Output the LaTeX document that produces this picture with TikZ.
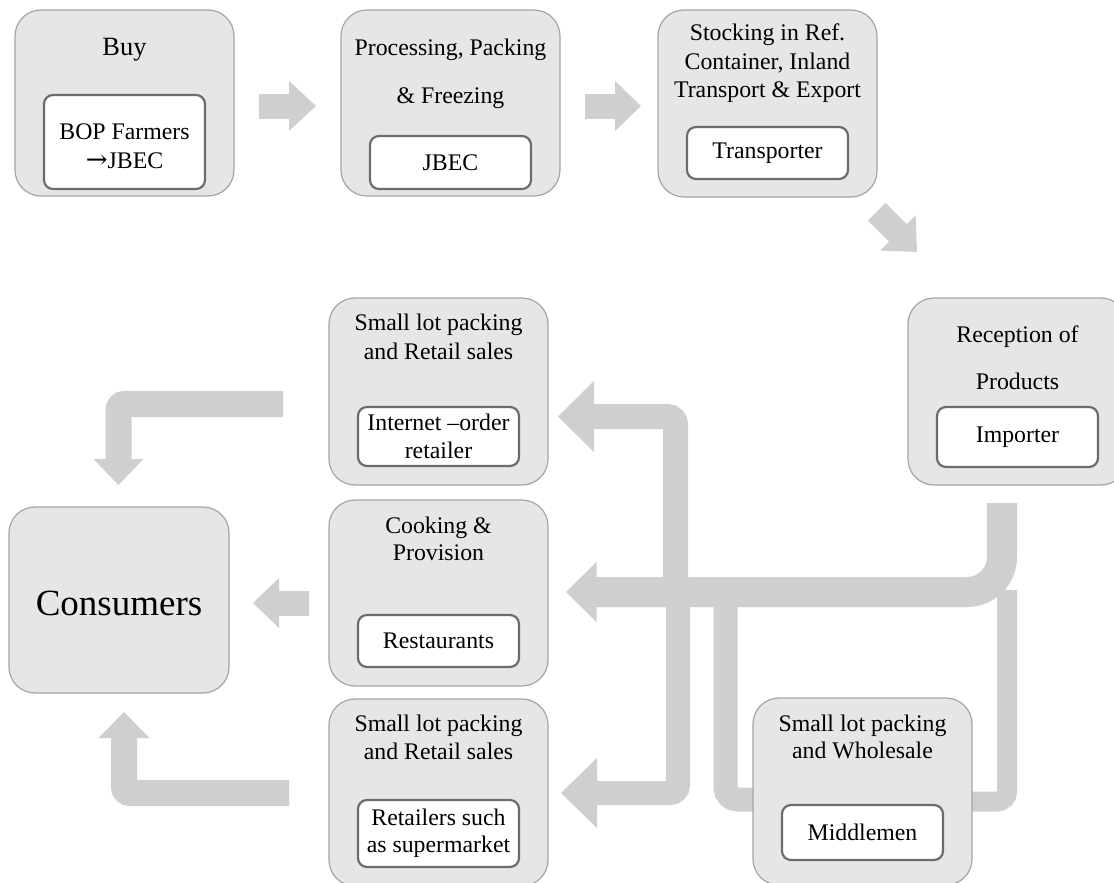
\documentclass[tikz,border=0pt]{standalone}
\usepackage{fontspec}
\setmainfont{Liberation Serif}
\newfontfamily\arrowfont{DejaVu Serif}
\definecolor{boxfill}{RGB}{230,230,230}
\definecolor{boxline}{RGB}{165,165,165}
\definecolor{inline}{RGB}{108,108,108}
\definecolor{arr}{RGB}{208,206,207}
\newcommand{\boxtxt}{\fontsize{23.8}{29}\selectfont}
\tikzset{
  outerbox/.style={draw=boxline, fill=boxfill, line width=1.2pt, rounded corners=26pt,
    minimum width=219pt, minimum height=186pt, inner sep=0pt},
  innerbox/.style={draw=inline, fill=white, line width=2.2pt, rounded corners=9pt,
    minimum width=161pt, inner sep=0pt, align=center, font=\boxtxt},
  lbl/.style={align=center, font=\boxtxt, inner sep=0pt},
  arrfill/.style={fill=arr},
  band/.style={draw=arr, line cap=butt},
}
\begin{document}
\begin{tikzpicture}[x=1pt,y=-1pt]
\useasboundingbox (0,0) rectangle (1114,883);
\clip (0,0) rectangle (1114,883);
\fill[white] (0,0) rectangle (1114,883);

% ---- top row arrows
\fill[arrfill] (259,93.5) rectangle (289.5,118.5);
\fill[arrfill] (289,81) -- (316,106) -- (289,131) -- cycle;
\fill[arrfill] (585,93.5) rectangle (615.5,118.5);
\fill[arrfill] (615,81) -- (641,106) -- (615,131) -- cycle;
\begin{scope}[shift={(917,252)},rotate=-45]
  \fill[arrfill] (-57,-12.5) rectangle (-26.5,12.5);
  \fill[arrfill] (-27,-25) -- (0,0) -- (-27,25) -- cycle;
\end{scope}

% ---- distribution network
\draw[band, line width=30pt, rounded corners=35pt] (1002,503) -- (1002,592) -- (595,592);
\fill[arrfill] (596.5,562) -- (566,592) -- (596.5,622) -- cycle;
\draw[band, line width=20pt, rounded corners=10pt] (1007,590) -- (1007,801.5) -- (972,801.5);
\draw[band, line width=24pt, rounded corners=12pt] (753,799.5) -- (725.5,799.5) -- (725.5,600);
\draw[band, line width=25pt, rounded corners=8pt] (675.5,607) -- (675.5,416.5) -- (593.5,416.5);
\fill[arrfill] (594,381) -- (558,416.5) -- (594,452) -- cycle;
\draw[band, line width=24pt, rounded corners=8pt] (678,604) -- (678,793) -- (596.5,793);
\fill[arrfill] (597,758) -- (561,793) -- (597,828) -- cycle;

% ---- arrows to consumers
\draw[band, line width=26pt, rounded corners=6pt] (283,404) -- (118.5,404) -- (118.5,459.5);
\fill[arrfill] (93.5,459) -- (118.5,485) -- (143.5,459) -- cycle;
\fill[arrfill] (278.5,590.5) rectangle (309,615.5);
\fill[arrfill] (279,578) -- (253,603) -- (279,628) -- cycle;
\draw[band, line width=26pt, rounded corners=6pt] (289,793) -- (124,793) -- (124,737.5);
\fill[arrfill] (98.5,738) -- (124,712) -- (149.5,738) -- cycle;

% ---- boxes
\node[outerbox] (buy) at (124.5,103) {};
\node[lbl, font=\fontsize{26.4}{30}\selectfont] (buyt) at (124.5,50) {Buy};
\node[innerbox, minimum height=94pt] (buyin) at (124.5,142) {};
\node[lbl] (buyint) at (124.5,146.5) {BOP Farmers\\{\arrowfont\fontsize{26}{29}\selectfont →}JBEC};

\node[outerbox] (proc) at (450.5,103) {};
\node[lbl] (proct1) at (450.5,50) {Processing, Packing};
\node[lbl] (proct2) at (450.5,98) {\& Freezing};
\node[innerbox, minimum height=53pt] (procin) at (450.5,162.5) {JBEC};

\node[outerbox, minimum height=187pt] (stock) at (767.5,103.5) {};
\node[lbl, font=\fontsize{23.8}{28.5}\selectfont] (stockt) at (767.5,63.5) {Stocking in Ref.\\Container, Inland\\Transport \& Export};
\node[innerbox, minimum height=52pt] (stockin) at (767.5,153) {Transporter};

\node[outerbox, minimum height=187pt] (recep) at (1017.5,391.5) {};
\node[lbl, font=\fontsize{23.8}{47}\selectfont] (recept) at (1017.5,357.5) {Reception of\\Products};
\node[innerbox, minimum height=60pt] (recepin) at (1017.5,437) {Importer};

\node[outerbox, minimum height=187pt] (inet) at (438.5,391.5) {};
\node[lbl] (inett) at (438.5,337) {Small lot packing\\and Retail sales};
\node[innerbox, minimum height=59pt, font=\fontsize{23.8}{28}\selectfont] (inetin) at (438.5,436.5) {Internet –order\\retailer};

\node[outerbox] (cook) at (438.5,593) {};
\node[lbl, font=\fontsize{23.8}{27}\selectfont] (cookt) at (438.5,538.5) {Cooking \&\\Provision};
\node[innerbox, minimum height=52pt] (cookin) at (438.5,641) {Restaurants};

\node[outerbox, minimum height=187pt] (retail) at (438.5,792.5) {};
\node[lbl, font=\fontsize{23.8}{28}\selectfont] (retailt) at (438.5,737) {Small lot packing\\and Retail sales};
\node[innerbox, minimum height=67pt, font=\fontsize{23.8}{27}\selectfont] (retailin) at (438.5,833.5) {Retailers such\\as supermarket};

\node[outerbox, minimum width=220pt] (cons) at (119,600) {};
\node[lbl, font=\fontsize{37}{44}\selectfont] (const) at (119,603) {Consumers};

\node[outerbox, minimum height=187pt] (midd) at (862.5,791.5) {};
\node[lbl, font=\fontsize{23.8}{27}\selectfont] (middt) at (862.5,736.5) {Small lot packing\\and Wholesale};
\node[innerbox, minimum height=55pt] (middin) at (862.5,832.5) {Middlemen};
\end{tikzpicture}
\end{document}
